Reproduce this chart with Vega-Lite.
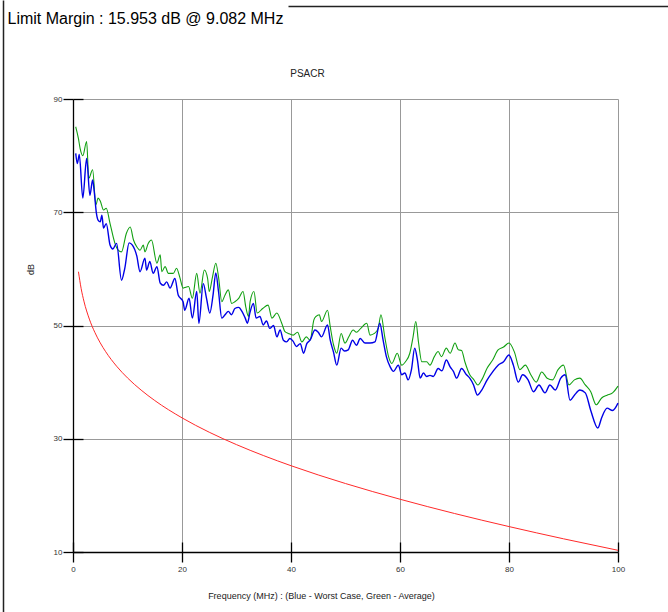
{
  "$schema": "https://vega.github.io/schema/vega-lite/v6.json",
  "width": 545,
  "height": 453,
  "autosize": {"type": "none"},
  "padding": {"left": 73, "top": 99, "right": 50, "bottom": 60},
  "background": "white",
  "config": {"view": {"stroke": null}, "font": "Liberation Sans"},
  "datasets": {
    "green": [
      {"f":0.5,"db":85.1},{"f":1.0,"db":83.0},{"f":1.3,"db":81.3},{"f":1.8,"db":80.0},{"f":2.5,"db":82.5},{"f":2.9,"db":76.0},{"f":3.6,"db":77.5},{"f":4.2,"db":71.3},{"f":4.6,"db":72.5},{"f":5.0,"db":72.0},{"f":5.6,"db":70.4},{"f":6.1,"db":70.7},{"f":6.8,"db":68.0},{"f":7.7,"db":64.5},{"f":8.3,"db":63.3},{"f":8.9,"db":63.0},{"f":9.8,"db":66.3},{"f":10.5,"db":67.4},{"f":11.1,"db":65.1},{"f":11.7,"db":63.9},{"f":12.3,"db":63.3},{"f":12.9,"db":64.2},{"f":13.2,"db":63.0},{"f":13.8,"db":64.5},{"f":14.4,"db":65.1},{"f":15.4,"db":61.0},{"f":16.0,"db":62.5},{"f":16.3,"db":59.5},{"f":16.9,"db":60.4},{"f":17.5,"db":59.2},{"f":18.4,"db":59.2},{"f":19.0,"db":60.1},{"f":19.6,"db":58.5},{"f":20.2,"db":56.6},{"f":20.5,"db":56.7},{"f":21.2,"db":56.9},{"f":21.9,"db":54.8},{"f":22.7,"db":59.2},{"f":23.3,"db":55.7},{"f":24.1,"db":59.8},{"f":24.7,"db":58.3},{"f":25.0,"db":56.0},{"f":25.6,"db":58.6},{"f":26.2,"db":61.0},{"f":26.7,"db":58.6},{"f":27.3,"db":54.2},{"f":27.9,"db":55.4},{"f":28.5,"db":56.3},{"f":29.1,"db":53.9},{"f":29.7,"db":54.2},{"f":30.4,"db":54.8},{"f":31.2,"db":56.0},{"f":31.7,"db":53.3},{"f":32.2,"db":51.6},{"f":32.5,"db":54.2},{"f":33.2,"db":56.0},{"f":33.8,"db":52.2},{"f":34.8,"db":53.0},{"f":35.8,"db":53.6},{"f":36.5,"db":51.3},{"f":37.4,"db":52.2},{"f":38.3,"db":50.4},{"f":38.9,"db":48.9},{"f":39.5,"db":48.6},{"f":40.4,"db":48.3},{"f":41.2,"db":48.8},{"f":42.0,"db":47.1},{"f":42.8,"db":48.0},{"f":43.5,"db":47.4},{"f":44.2,"db":51.0},{"f":44.6,"db":51.6},{"f":45.2,"db":51.9},{"f":45.6,"db":50.7},{"f":46.7,"db":52.7},{"f":47.2,"db":49.8},{"f":47.8,"db":46.6},{"f":48.4,"db":45.1},{"f":49.2,"db":48.6},{"f":49.9,"db":46.9},{"f":50.6,"db":48.0},{"f":51.4,"db":49.2},{"f":52.0,"db":48.8},{"f":52.8,"db":49.5},{"f":53.9,"db":50.4},{"f":54.5,"db":48.3},{"f":55.3,"db":48.6},{"f":56.0,"db":49.5},{"f":56.5,"db":51.9},{"f":57.2,"db":48.0},{"f":57.9,"db":44.5},{"f":58.5,"db":43.3},{"f":59.5,"db":45.1},{"f":60.3,"db":43.0},{"f":61.0,"db":43.6},{"f":61.8,"db":45.1},{"f":62.4,"db":48.0},{"f":62.9,"db":50.7},{"f":63.4,"db":47.0},{"f":64.0,"db":43.6},{"f":64.9,"db":43.6},{"f":65.5,"db":43.0},{"f":66.3,"db":44.5},{"f":67.0,"db":45.4},{"f":67.6,"db":44.5},{"f":68.5,"db":46.0},{"f":69.2,"db":45.1},{"f":70.1,"db":46.9},{"f":70.7,"db":45.7},{"f":71.3,"db":45.6},{"f":71.9,"db":43.6},{"f":72.8,"db":41.3},{"f":73.5,"db":40.5},{"f":74.3,"db":39.5},{"f":75.0,"db":40.4},{"f":76.0,"db":42.5},{"f":77.0,"db":43.9},{"f":78.0,"db":45.7},{"f":79.0,"db":46.2},{"f":80.0,"db":46.9},{"f":81.0,"db":45.3},{"f":82.0,"db":42.2},{"f":83.0,"db":43.0},{"f":84.0,"db":41.3},{"f":85.0,"db":40.0},{"f":86.0,"db":41.8},{"f":87.0,"db":40.7},{"f":88.0,"db":40.4},{"f":89.0,"db":42.2},{"f":90.0,"db":43.0},{"f":91.0,"db":39.5},{"f":92.0,"db":40.4},{"f":93.0,"db":40.7},{"f":94.0,"db":39.5},{"f":95.0,"db":38.3},{"f":96.0,"db":36.0},{"f":97.0,"db":37.2},{"f":98.0,"db":37.7},{"f":99.0,"db":38.1},{"f":100.0,"db":39.3}
    ],
    "blue": [
      {"f":0.5,"db":80.4},{"f":0.8,"db":78.6},{"f":1.15,"db":80.2},{"f":1.8,"db":72.5},{"f":2.5,"db":79.5},{"f":3.1,"db":73.0},{"f":3.6,"db":75.7},{"f":3.9,"db":73.6},{"f":4.3,"db":69.8},{"f":4.6,"db":68.6},{"f":5.0,"db":68.3},{"f":5.3,"db":69.5},{"f":5.6,"db":67.2},{"f":6.1,"db":68.0},{"f":6.8,"db":64.2},{"f":7.3,"db":63.5},{"f":8.0,"db":64.5},{"f":8.9,"db":58.0},{"f":9.5,"db":60.1},{"f":10.3,"db":64.6},{"f":10.9,"db":64.2},{"f":11.7,"db":62.3},{"f":12.3,"db":59.5},{"f":13.2,"db":61.9},{"f":13.5,"db":59.8},{"f":14.1,"db":61.3},{"f":14.7,"db":59.2},{"f":15.4,"db":60.4},{"f":16.0,"db":57.5},{"f":16.6,"db":57.1},{"f":17.2,"db":57.7},{"f":17.8,"db":56.6},{"f":18.7,"db":58.3},{"f":19.3,"db":55.4},{"f":20.2,"db":54.2},{"f":20.5,"db":52.7},{"f":21.3,"db":54.8},{"f":21.9,"db":51.3},{"f":22.7,"db":56.0},{"f":23.1,"db":50.4},{"f":23.9,"db":57.4},{"f":24.5,"db":54.8},{"f":25.1,"db":52.2},{"f":25.7,"db":55.4},{"f":26.2,"db":59.3},{"f":26.7,"db":56.0},{"f":27.3,"db":51.3},{"f":27.9,"db":51.9},{"f":28.5,"db":52.5},{"f":29.1,"db":51.9},{"f":29.7,"db":53.0},{"f":30.4,"db":53.2},{"f":31.0,"db":52.5},{"f":31.6,"db":51.3},{"f":32.0,"db":50.4},{"f":32.5,"db":52.4},{"f":33.1,"db":53.9},{"f":33.6,"db":51.3},{"f":34.3,"db":51.6},{"f":34.9,"db":50.1},{"f":35.5,"db":50.8},{"f":36.1,"db":49.5},{"f":36.8,"db":50.0},{"f":37.4,"db":48.0},{"f":38.0,"db":49.2},{"f":38.6,"db":47.4},{"f":39.2,"db":47.1},{"f":39.8,"db":47.7},{"f":40.4,"db":47.2},{"f":41.0,"db":46.3},{"f":41.7,"db":46.8},{"f":42.3,"db":45.1},{"f":42.9,"db":46.8},{"f":43.5,"db":47.4},{"f":44.4,"db":49.2},{"f":45.0,"db":48.8},{"f":45.6,"db":48.0},{"f":46.7,"db":50.1},{"f":47.2,"db":47.4},{"f":47.8,"db":45.3},{"f":48.4,"db":43.0},{"f":49.2,"db":46.0},{"f":49.8,"db":45.5},{"f":50.5,"db":45.7},{"f":51.3,"db":47.4},{"f":52.0,"db":46.5},{"f":52.7,"db":47.7},{"f":53.6,"db":46.9},{"f":54.5,"db":46.9},{"f":55.4,"db":47.1},{"f":56.3,"db":50.4},{"f":56.9,"db":47.4},{"f":57.5,"db":44.5},{"f":58.2,"db":42.7},{"f":58.8,"db":41.9},{"f":59.7,"db":43.0},{"f":60.3,"db":41.3},{"f":60.9,"db":41.6},{"f":61.5,"db":40.4},{"f":62.1,"db":42.2},{"f":62.7,"db":46.0},{"f":63.2,"db":43.9},{"f":63.7,"db":40.7},{"f":64.3,"db":41.6},{"f":64.9,"db":41.0},{"f":65.5,"db":41.2},{"f":66.1,"db":41.0},{"f":67.0,"db":42.4},{"f":67.7,"db":42.0},{"f":68.5,"db":43.9},{"f":69.2,"db":42.7},{"f":69.8,"db":41.9},{"f":70.4,"db":40.7},{"f":71.3,"db":42.4},{"f":72.2,"db":41.3},{"f":72.8,"db":40.7},{"f":73.5,"db":39.5},{"f":74.2,"db":37.7},{"f":75.0,"db":38.6},{"f":76.0,"db":40.4},{"f":77.0,"db":41.8},{"f":78.0,"db":43.0},{"f":79.0,"db":43.6},{"f":80.0,"db":44.8},{"f":80.8,"db":43.0},{"f":81.7,"db":40.0},{"f":82.5,"db":41.3},{"f":83.5,"db":40.4},{"f":84.5,"db":38.3},{"f":85.5,"db":39.5},{"f":86.6,"db":38.1},{"f":87.5,"db":39.5},{"f":88.5,"db":38.6},{"f":89.5,"db":40.7},{"f":90.3,"db":41.3},{"f":91.2,"db":36.8},{"f":92.0,"db":37.7},{"f":93.0,"db":38.6},{"f":94.0,"db":38.1},{"f":95.0,"db":35.0},{"f":96.3,"db":31.9},{"f":97.0,"db":33.7},{"f":98.0,"db":35.4},{"f":99.0,"db":35.0},{"f":100.0,"db":36.3}
    ],
    "limit": [
      {"f":1,"db":59.5},{"f":1.5,"db":56.5},{"f":2,"db":54.31},{"f":3,"db":51.13},{"f":4,"db":48.8},{"f":5,"db":46.93},{"f":6,"db":45.37},{"f":8,"db":42.81},{"f":10,"db":40.74},{"f":12.5,"db":38.59},{"f":15,"db":36.75},{"f":20,"db":33.69},{"f":25,"db":31.15},{"f":30,"db":28.96},{"f":35,"db":27.01},{"f":40,"db":25.24},{"f":50,"db":22.09},{"f":60,"db":19.32},{"f":70,"db":16.8},{"f":80,"db":14.49},{"f":90,"db":12.33},{"f":100,"db":10.3}
    ]
  },
  "resolve": {"scale": {"x": "independent", "y": "independent"}, "axis": {"x": "independent", "y": "independent"}},
  "layer": [
    {
      "data": {"name": "limit"},
      "mark": {"type": "line", "strokeOpacity": 0},
      "encoding": {
        "x": {"field": "f", "type": "quantitative", "scale": {"domain": [0, 100], "nice": false, "zero": false, "range": [215, 595]},
          "axis": {"orient": "top", "offset": 93, "domain": true, "domainColor": "#222", "domainWidth": 1.5, "grid": false, "ticks": false, "labels": false, "title": null}},
        "y": {"field": "db", "type": "quantitative", "scale": {"domain": [10, 90], "nice": false, "zero": false, "range": [513, -99]},
          "axis": {"orient": "left", "offset": 70, "domain": true, "domainColor": "#222", "domainWidth": 1.5, "grid": false, "ticks": false, "labels": false, "title": null}}
      }
    },
    {
      "data": {"name": "green"},
      "mark": {"type": "line", "color": "#12a012", "strokeWidth": 1.1, "interpolate": "monotone"},
      "encoding": {
        "x": {"field": "f", "type": "quantitative", "scale": {"domain": [0, 100], "nice": false, "zero": false},
          "axis": {"orient": "bottom", "values": [0, 20, 40, 60, 80, 100], "grid": false, "domain": true, "domainColor": "#000", "domainWidth": 1.3, "ticks": true, "tickSize": 10, "tickColor": "#000", "tickWidth": 1.3, "labels": true, "labelFlush": false, "labelFont": "Liberation Sans", "labelFontSize": 8, "labelColor": "#333", "labelPadding": 3,
            "title": "Frequency (MHz) : (Blue - Worst Case, Green - Average)", "titleFont": "Liberation Sans", "titleFontSize": 9, "titleFontWeight": "normal", "titleColor": "#222", "titleX": 248, "titleY": 46, "titleAlign": "center", "titleBaseline": "alphabetic"}},
        "y": {"field": "db", "type": "quantitative", "scale": {"domain": [10, 90], "nice": false, "zero": false},
          "axis": {"orient": "left", "values": [10, 30, 50, 70, 90], "grid": false, "domain": true, "domainColor": "#000", "domainWidth": 1.3, "ticks": true, "tickSize": 10, "tickColor": "#000", "tickWidth": 1.3, "labels": true, "labelFlush": false, "labelFont": "Liberation Sans", "labelFontSize": 8, "labelColor": "#333", "labelPadding": 1,
            "title": "dB", "titleFont": "Liberation Sans", "titleFontSize": 9, "titleFontWeight": "normal", "titleColor": "#222", "titleX": -40, "titleY": 170, "titleAngle": -90, "titleAlign": "center", "titleBaseline": "alphabetic"}}
      }
    },
    {
      "data": {"name": "blue"},
      "mark": {"type": "line", "color": "#0000e6", "strokeWidth": 1.4, "interpolate": "monotone"},
      "encoding": {
        "x": {"field": "f", "type": "quantitative", "scale": {"domain": [0, 100], "nice": false, "zero": false},
          "axis": {"orient": "bottom", "offset": -10, "values": [0, 20, 40, 60, 80, 100], "grid": false, "domain": false, "labels": false, "ticks": true, "tickSize": 10, "tickColor": "#000", "tickWidth": 1.3, "title": null}},
        "y": {"field": "db", "type": "quantitative", "scale": {"domain": [10, 90], "nice": false, "zero": false},
          "axis": {"orient": "left", "offset": -10, "values": [10, 30, 50, 70, 90], "grid": false, "domain": false, "labels": false, "ticks": true, "tickSize": 10, "tickColor": "#000", "tickWidth": 1.3, "title": null}}
      }
    },
    {
      "data": {"name": "limit"},
      "mark": {"type": "line", "color": "#ff2a2a", "strokeWidth": 1, "interpolate": "monotone"},
      "encoding": {
        "x": {"field": "f", "type": "quantitative", "scale": {"domain": [0, 100], "nice": false, "zero": false},
          "axis": {"orient": "top", "values": [20, 40, 60, 80, 100], "grid": true, "gridColor": "#999", "gridWidth": 1, "gridOpacity": 1, "domain": false, "labels": false, "ticks": false,
            "title": "PSACR", "titleFont": "Liberation Sans", "titleFontSize": 10, "titleFontWeight": "normal", "titleColor": "#222", "titleX": 234, "titleY": -23, "titleAlign": "center", "titleBaseline": "alphabetic"}},
        "y": {"field": "db", "type": "quantitative", "scale": {"domain": [10, 90], "nice": false, "zero": false},
          "axis": {"orient": "left", "values": [30, 50, 70, 90], "grid": true, "gridColor": "#999", "gridWidth": 1, "gridOpacity": 1, "domain": false, "labels": false, "ticks": false,
            "title": "Limit Margin : 15.953 dB @ 9.082 MHz", "titleFont": "Liberation Sans", "titleFontSize": 16, "titleFontWeight": "normal", "titleColor": "#000", "titleX": -66, "titleY": -76, "titleAngle": 0, "titleAlign": "left", "titleBaseline": "alphabetic"}}
      }
    }
  ]
}
